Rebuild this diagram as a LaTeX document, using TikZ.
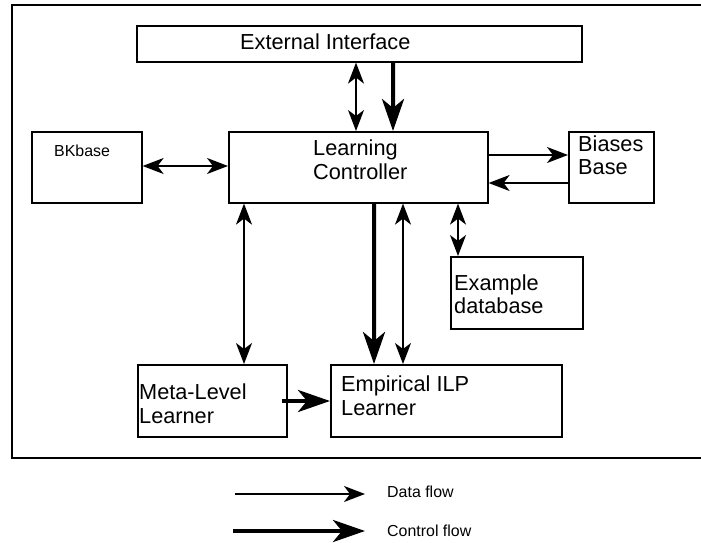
\documentclass[tikz,border=0pt]{standalone}
\usepackage{fontspec}
\setmainfont{Liberation Sans}
\usetikzlibrary{arrows.meta}
\begin{document}
\begin{tikzpicture}[x=1bp,y=-1bp,
  box/.style={draw, line width=1.6bp, inner sep=0pt, anchor=north west},
  big/.style={font=\fontsize{21.8}{24}\selectfont, inner sep=0pt, anchor=base west},
  small/.style={font=\fontsize{16}{18}\selectfont, inner sep=0pt, anchor=base west},
  dhead/.tip={Stealth[length=21bp,width=16bp,inset=6bp]},
  chead/.tip={Stealth[length=32bp,width=22bp,inset=9bp]},
  data/.style={line width=1.7bp, -dhead},
  datatwo/.style={line width=1.7bp, dhead-dhead},
  control/.style={line width=4bp, -chead}
]
\useasboundingbox (0,0) rectangle (701,543);
\clip (0,0) rectangle (701,543);
\fill[white] (0,0) rectangle (701,543);
% outer frame (right side beyond the picture)
\draw[line width=2bp] (720,5) -- (12,5) -- (12,458) -- (720,458);

% boxes
\node[box, minimum width=445bp, minimum height=36bp] (ei) at (136,25) {};
\node[box, minimum width=110bp, minimum height=71bp] (bk) at (31,131) {};
\node[box, minimum width=259bp, minimum height=71bp] (lc) at (228,131) {};
\node[box, minimum width=85bp, minimum height=71bp] (bb) at (568,131) {};
\node[box, minimum width=132bp, minimum height=72bp] (ed) at (450,256) {};
\node[box, minimum width=149bp, minimum height=72bp] (meta) at (137,364) {};
\node[box, minimum width=231bp, minimum height=72bp] (emp) at (330,364) {};

% texts
\node[big] (eit) at (240,50) {External Interface};
\node[small] (bkt) at (54,157) {BKbase};
\node[big] (lct1) at (313,156) {Learning};
\node[big] (lct2) at (313,180) {Controller};
\node[big] (bbt1) at (578,152) {Biases};
\node[big] (bbt2) at (578,175) {Base};
\node[big] (edt1) at (454,290) {Example};
\node[big] (edt2) at (454,313) {database};
\node[big] (mt1) at (139,399) {Meta-Level};
\node[big] (mt2) at (139,423) {Learner};
\node[big] (et1) at (341,391) {Empirical ILP};
\node[big] (et2) at (341,415) {Learner};

% connectors
\draw[datatwo] ([xshift=220bp]ei.south west) -- ([xshift=128bp]lc.north west);
\draw[control] ([xshift=257bp]ei.south west) -- ([xshift=165bp]lc.north west);
\draw[datatwo] ([yshift=-35bp]bk.north east) -- ([yshift=-35bp]lc.north west);
\draw[data] ([yshift=-24bp]lc.north east) -- ([yshift=-24bp]bb.north west);
\draw[data] ([yshift=-52bp]bb.north west) -- ([yshift=-52bp]lc.north east);
\draw[datatwo] ([xshift=230bp]lc.south west) -- ([xshift=8bp]ed.north west);
\draw[datatwo] ([xshift=16bp]lc.south west) -- ([xshift=107bp]meta.north west);
\draw[control] ([xshift=146bp]lc.south west) -- ([xshift=44bp]emp.north west);
\draw[datatwo] ([xshift=175bp]lc.south west) -- ([xshift=73bp]emp.north west);
\draw[control] ([xshift=-6bp,yshift=-37bp]meta.north east) -- ([yshift=-37bp]emp.north west);

% legend
\coordinate (d1) at (235,494);
\coordinate (d2) at (365,494);
\coordinate (c1) at (233,531);
\coordinate (c2) at (365,531);
\draw[data] (d1) -- (d2);
\draw[control] (c1) -- (c2);
\node[small] (dft) at (387,497) {Data flow};
\node[small] (cft) at (387,536) {Control flow};
\end{tikzpicture}
\end{document}
